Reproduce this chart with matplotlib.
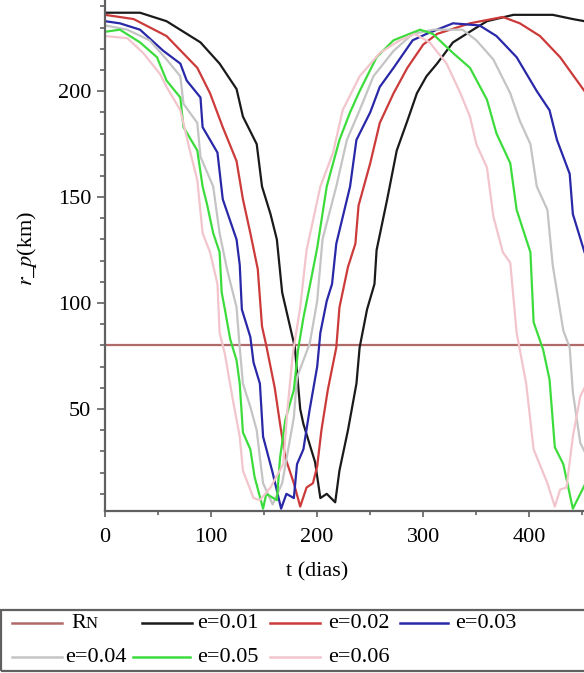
"""Periapsis altitude r_p vs time for several eccentricities (Maple-style plot)."""

import matplotlib
matplotlib.use("Agg")
import matplotlib.pyplot as plt
from matplotlib.lines import Line2D
from matplotlib.patches import Rectangle
from matplotlib.ticker import MultipleLocator

plt.rcParams["font.family"] = ["Liberation Serif", "DejaVu Serif"]
plt.rcParams["mathtext.fontset"] = "stix"

# Reference altitude R_N (km)
RN = 80

# Curves: time (days) and r_p (km)
t_e01 = [0, 33, 58, 90, 108, 124, 130, 143, 148, 156, 162, 167, 179, 184, 187, 198, 203, 209, 217, 221,
         229, 237, 240, 247, 254, 256, 266, 275, 285, 294, 303, 313, 328, 347, 360, 385, 422, 441, 452]
r_e01 = [237, 237, 233, 223, 213, 201, 188, 175, 155, 142, 130, 105, 79, 50, 43, 25, 8, 10, 6, 21,
         40, 62, 79, 97, 109, 125, 149, 172, 186, 199, 207, 213, 223, 229, 233, 236, 236, 234, 233]

t_e02 = [0, 27, 58, 87, 99, 111, 124, 130, 137, 144, 148, 152, 160, 165, 170, 178, 184, 190, 196, 200,
         204, 210, 218, 221, 229, 236, 239, 250, 259, 272, 285, 300, 313, 344, 375, 391, 410, 429, 452]
r_e02 = [236, 234, 226, 211, 199, 183, 167, 149, 133, 116, 89, 80, 60, 43, 27, 15, 4, 13, 15, 23,
         40, 59, 79, 98, 117, 128, 146, 166, 185, 199, 211, 222, 227, 232, 235, 232, 226, 216, 200]

t_e03 = [0, 14, 33, 55, 71, 77, 90, 92, 106, 111, 124, 127, 129, 137, 140, 146, 149, 158, 166, 171,
         178, 181, 187, 193, 200, 203, 209, 214, 218, 231, 237, 250, 259, 272, 290, 303, 328, 353, 369, 388,
         407, 419, 426, 438, 441, 452]
r_e03 = [233, 232, 229, 219, 213, 205, 197, 183, 171, 149, 130, 118, 97, 84, 72, 62, 37, 20, 3, 10,
         8, 24, 31, 50, 70, 86, 101, 109, 128, 155, 177, 190, 202, 211, 224, 227, 232, 231, 226, 216,
         200, 191, 177, 161, 142, 124]

t_e04 = [0, 21, 42, 58, 71, 74, 87, 90, 102, 108, 115, 124, 127, 130, 137, 143, 146, 149, 158, 167,
         178, 181, 193, 200, 205, 218, 228, 240, 253, 272, 290, 310, 337, 350, 366, 382, 391, 401, 407, 417,
         422, 432, 438, 441, 448, 452]
r_e04 = [231, 229, 224, 215, 207, 194, 185, 169, 155, 133, 116, 98, 79, 62, 51, 40, 27, 15, 5, 15,
         46, 65, 81, 101, 130, 155, 177, 191, 207, 219, 227, 229, 229, 224, 215, 199, 186, 175, 155, 144,
         118, 87, 79, 58, 34, 30]

t_e05 = [0, 14, 33, 49, 58, 71, 74, 87, 92, 96, 102, 108, 110, 113, 118, 124, 127, 130, 137, 141,
         149, 152, 162, 165, 170, 178, 182, 187, 193, 200, 209, 221, 231, 240, 256, 272, 297, 309, 328, 344,
         360, 369, 382, 388, 401, 404, 413, 419, 424, 432, 441, 452]
r_e05 = [228, 229, 223, 216, 205, 197, 183, 172, 155, 147, 133, 124, 105, 97, 83, 73, 62, 39, 31, 18,
         3, 10, 7, 27, 45, 59, 78, 93, 108, 126, 155, 177, 190, 200, 216, 224, 229, 227, 218, 211,
         196, 180, 166, 144, 124, 91, 78, 64, 32, 24, 3, 14]

t_e06 = [0, 21, 36, 52, 58, 71, 80, 87, 92, 99, 106, 108, 113, 121, 127, 130, 140, 146, 156, 168,
         172, 177, 184, 190, 203, 215, 224, 240, 259, 278, 292, 306, 322, 335, 344, 350, 360, 366, 375, 382,
         388, 397, 404, 417, 424, 429, 435, 441, 448, 452]
r_e06 = [226, 225, 218, 208, 202, 191, 172, 158, 133, 124, 109, 86, 76, 53, 37, 21, 8, 7, 13, 24,
         50, 76, 98, 125, 155, 171, 191, 207, 218, 224, 227, 223, 213, 199, 188, 175, 164, 141, 124, 119,
         86, 62, 31, 15, 4, 12, 13, 37, 56, 60]

labels = ["e=0.01", "e=0.02", "e=0.03", "e=0.04", "e=0.05", "e=0.06"]
colors = ["#1a1a1a", "#cc3a3a", "#2828a8", "#c4c4c4", "#3ddc3d", "#f2c4cc"]
rn_color = "#b06a6a"

W, H = 584, 673
fig = plt.figure(figsize=(W / 100, H / 100), dpi=100)
ax = fig.add_axes([105 / W, 1 - 511 / H, (W - 105) / W, 511 / H])

ax.axhline(RN, color=rn_color, lw=1.6)
series = [(t_e01, r_e01), (t_e02, r_e02), (t_e03, r_e03),
          (t_e04, r_e04), (t_e05, r_e05), (t_e06, r_e06)]
for (t, r), c in zip(series, colors):
    ax.plot(t, r, color=c, lw=1.6)

ax.set_xlim(0, 451.5)
ax.set_ylim(1.9, 243)
ax.xaxis.set_major_locator(MultipleLocator(100))
ax.xaxis.set_minor_locator(MultipleLocator(50))
ax.yaxis.set_major_locator(MultipleLocator(50))
ax.yaxis.set_minor_locator(MultipleLocator(10))
ax.set_yticks([50, 100, 150, 200])

for side in ("top", "right"):
    ax.spines[side].set_visible(False)
for side in ("left", "bottom"):
    ax.spines[side].set_color("#606060")
    ax.spines[side].set_linewidth(1.6)

ax.tick_params(which="both", direction="out", color="#606060", width=1.2, labelsize=16)
ax.tick_params(axis="y", which="major", length=6, pad=4)
ax.tick_params(axis="y", which="minor", length=3.5)
ax.tick_params(axis="x", which="major", length=4, pad=8)
ax.tick_params(axis="x", which="minor", length=3)

fig.text(317 / W, 1 - 572 / H, "t (dias)", ha="center", va="center", fontsize=16)
fig.text(27 / W, 1 - 248 / H, r"$r\_p$(km)", ha="center", va="center",
         rotation=90, fontsize=16)

# legend box drawn by hand (Maple-style, cut at the right edge)
fig.add_artist(Rectangle((1 / W, 1 - 671 / H), (W + 5) / W, 61 / H,
                         transform=fig.transFigure, fill=False,
                         edgecolor="#606060", lw=1.6))
leg_labels = ["RN"] + labels
leg_colors = [rn_color] + colors
leg_line_x = [(12, 62), (142, 192), (270, 320), (400, 448),
              (12, 62), (133, 190), (270, 320)]
leg_text_x = [71, 197, 328, 455, 65, 197, 328]
leg_row_y = [623, 623, 623, 623, 657, 657, 657]
for lab, c, (x0, x1), tx, y in zip(leg_labels, leg_colors, leg_line_x, leg_text_x, leg_row_y):
    fig.add_artist(Line2D([x0 / W, x1 / W], [1 - y / H, 1 - y / H],
                          transform=fig.transFigure, color=c, lw=1.8))
    if lab == "RN":
        fig.text(tx / W, 1 - y / H, "R", ha="left", va="center", fontsize=16)
        fig.text((tx + 15) / W, 1 - (y + 1) / H, "N", ha="left", va="center", fontsize=12)
    else:
        fig.text(tx / W, 1 - y / H, lab, ha="left", va="center", fontsize=16)

fig.savefig("out.png", dpi=100)
